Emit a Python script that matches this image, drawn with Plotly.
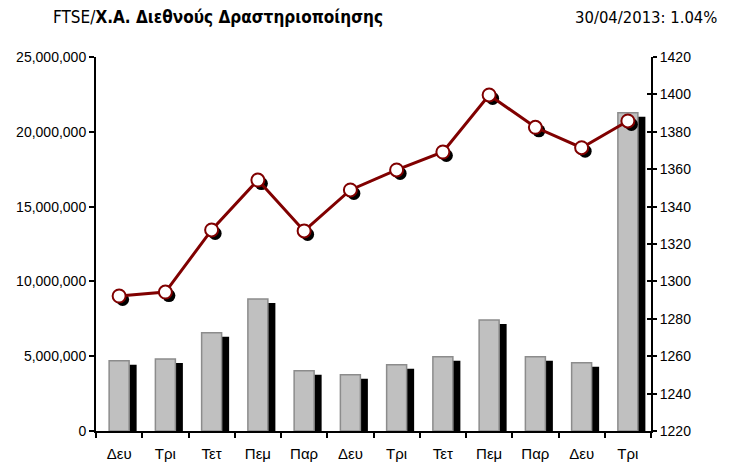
import plotly.graph_objects as go

days = ["Δευ", "Τρι", "Τετ", "Πεμ", "Παρ", "Δευ", "Τρι", "Τετ", "Πεμ", "Παρ", "Δευ", "Τρι"]
volume = [4700000, 4810000, 6570000, 8820000, 4030000, 3760000, 4430000, 4970000,
          7420000, 4970000, 4570000, 21280000]
index_close = [1292.2, 1294.3, 1327.5, 1354.2, 1327.0, 1348.9, 1359.6, 1369.2,
               1399.7, 1382.4, 1371.5, 1385.8]
left_ticks = [0, 5000000, 10000000, 15000000, 20000000, 25000000]
right_ticks = list(range(1220, 1421, 20))

title_main = "FTSE/<b>Χ.Α. Διεθνούς Δραστηριοποίησης</b>"
title_right = "30/04/2013: 1.04%"

pos = list(range(len(days)))

W, H = 739, 463
L, R, T, B = 96, 88, 57, 32
plot_w = W - L - R
plot_h = H - T - B
cat_px = plot_w / len(days)
bar_w = 20 / cat_px
shadow_dx = 7.5 / cat_px
vol_per_px = 25000000 / plot_h
idx_per_px = 200 / plot_h

fig = go.Figure()

# bar shadows
fig.add_trace(go.Bar(
    x=pos, y=volume, base=-4 * vol_per_px, width=bar_w,
    offset=-bar_w / 2 + shadow_dx,
    marker=dict(color="black", line=dict(width=0)),
    hoverinfo="skip", showlegend=False))
# bars
fig.add_trace(go.Bar(
    x=pos, y=volume, width=bar_w, offset=-bar_w / 2,
    marker=dict(color="#C0C0C0", line=dict(color="#8C8C8C", width=1.5)),
    showlegend=False))
# marker shadows
fig.add_trace(go.Scatter(
    x=[p + 3.5 / cat_px for p in pos], y=[v - 3.5 * idx_per_px for v in index_close],
    yaxis="y2", mode="markers",
    marker=dict(size=13, color="black"),
    hoverinfo="skip", showlegend=False))
# line
fig.add_trace(go.Scatter(
    x=pos, y=index_close, yaxis="y3", mode="lines+markers",
    line=dict(color="#800000", width=3),
    marker=dict(size=13, color="white", line=dict(color="#800000", width=2)),
    showlegend=False))

tick_font = dict(family="Liberation Sans, Arial, sans-serif", size=14, color="black")
x_font = dict(family="Liberation Sans, Arial, sans-serif", size=15, color="black")
title_family = "Liberation Sans Narrow, Arial Narrow, DejaVu Sans Condensed, sans-serif"

fig.update_layout(
    width=W, height=H,
    margin=dict(l=L, r=R, t=T, b=B, autoexpand=False),
    paper_bgcolor="white", plot_bgcolor="white",
    barmode="overlay",
    xaxis=dict(
        range=[-0.5, len(days) - 0.5], automargin=False,
        tickvals=pos, ticktext=days, ticks="outside", ticklen=8,
        tickcolor="rgba(0,0,0,0)",
        showline=True, linecolor="black", linewidth=2,
        showgrid=False, zeroline=False, tickfont=x_font,
        minor=dict(tick0=-0.5, dtick=1, ticks="outside", ticklen=5,
                   tickcolor="black", tickwidth=2, showgrid=False),
    ),
    yaxis=dict(
        range=[0, 25000000], tickvals=left_ticks, tickformat=",", automargin=False,
        ticks="outside", ticklen=5, tickwidth=2, tickcolor="black",
        showline=True, linecolor="black", linewidth=2,
        showgrid=False, zeroline=False, tickfont=tick_font,
    ),
    yaxis2=dict(
        range=[1220, 1420], tickvals=right_ticks, overlaying="y", side="right",
        automargin=False,
        ticks="outside", ticklen=4, tickwidth=2, tickcolor="black",
        showline=True, linecolor="black", linewidth=2,
        showgrid=False, zeroline=False, tickfont=tick_font,
    ),
    yaxis3=dict(
        range=[1220, 1420], tickvals=right_ticks, overlaying="y", side="right",
        automargin=False,
        ticks="inside", ticklen=4, tickwidth=2, tickcolor="black",
        showticklabels=False, showline=False,
        showgrid=False, zeroline=False,
    ),
    annotations=[
        dict(text=title_main, xref="paper", yref="paper",
             x=(51 - L) / plot_w, y=1 + (T - 17) / plot_h,
             xanchor="left", yanchor="middle", showarrow=False,
             font=dict(family=title_family, size=17, color="black")),
        dict(text=title_right, xref="paper", yref="paper",
             x=(719 - L) / plot_w, y=1 + (T - 17) / plot_h,
             xanchor="right", yanchor="middle", showarrow=False,
             font=dict(family=title_family, size=16.5, color="black")),
    ],
)

fig.write_html("out.html", config={"displayModeBar": False},
               post_script="document.body.style.margin='0';document.body.style.overflow='hidden';")
